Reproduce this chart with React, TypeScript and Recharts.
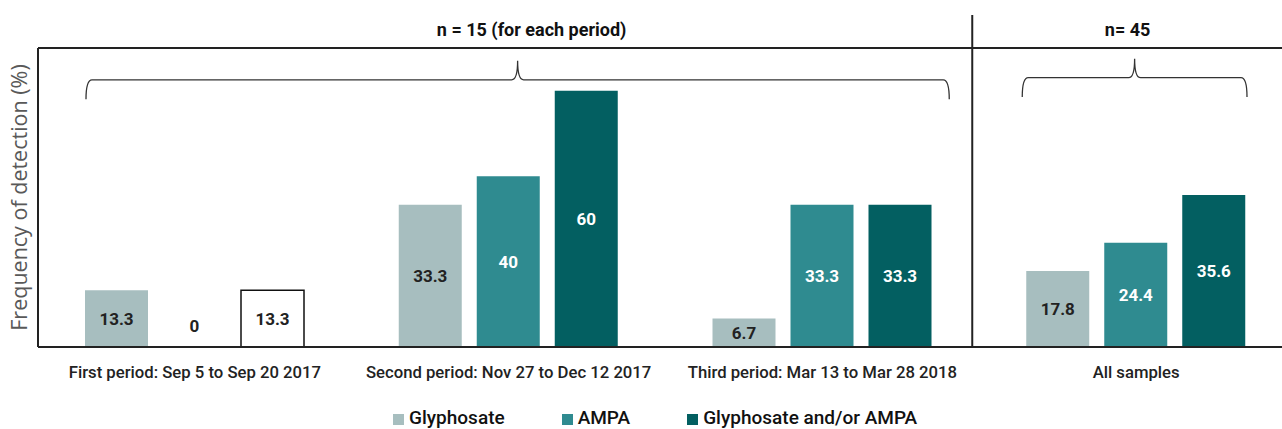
import { BarChart, Bar, XAxis, YAxis, Cell, LabelList, Label, ReferenceLine, ReferenceArea } from 'recharts';

const categories = [
  'First period: Sep 5 to Sep 20 2017',
  'Second period: Nov 27 to Dec 12 2017',
  'Third period: Mar 13 to Mar 28 2018',
  'All samples',
];
const glyphosate = [13.3, 33.3, 6.7, 17.8];
const ampa = [0, 40, 33.3, 24.4];
const either = [13.3, 60, 33.3, 35.6];

const seriesNames = ['Glyphosate', 'AMPA', 'Glyphosate and/or AMPA'];
const colors = ['#a7bebf', '#2f8b90', '#035f61'];

const data = categories.map((name, i) => ({
  name,
  glyphosate: glyphosate[i],
  ampa: ampa[i],
  either: either[i],
}));

const FONT = 'Roboto, "Noto Sans", sans-serif';

// the first period's combined bar is drawn as an empty box
const isOutlined = (key: string, index: number) => key === 'either' && index === 0;

function makeLabel(key: string, color: string) {
  return (props: any) => {
    const { x, y, width, height, value, index } = props;
    const cx = Number(x) + Number(width) / 2;
    const zero = Number(value) === 0;
    const cy = zero ? Number(y) + Number(height) - 21 : Number(y) + Number(height) / 2;
    const fill = zero || isOutlined(key, index) ? '#222' : color;
    return (
      <text x={cx} y={cy} dy="0.35em" textAnchor="middle" fill={fill}
        style={{ fontFamily: FONT, fontSize: 17, fontWeight: 700 }}>
        {value}
      </text>
    );
  };
}

function brace(leftInset: number, rightInset: number, title: string, titleDx: number) {
  return (p: any) => {
    const x0 = p.x + leftInset;
    const x1 = p.x + p.width - rightInset;
    const top = p.y;
    const bottom = p.y + p.height;
    const yh = top + 19;
    const xm = (x0 + x1) / 2;
    const d = `M${x0},${bottom} Q${x0},${yh} ${x0 + 6},${yh} L${xm - 6},${yh} Q${xm},${yh} ${xm},${top}`
      + ` Q${xm},${yh} ${xm + 6},${yh} L${x1 - 6},${yh} Q${x1},${yh} ${x1},${bottom}`;
    return (
      <g>
        <path d={d} fill="none" stroke="#333" strokeWidth={1.3} />
        <text x={xm + titleDx} y={36} textAnchor="middle" fill="#111"
          style={{ fontFamily: FONT, fontSize: 18, fontWeight: 700 }}>
          {title}
        </text>
      </g>
    );
  };
}

export default function App() {
  const keys = ['glyphosate', 'ampa', 'either'];
  return (
    <div style={{ position: 'absolute', left: 0, top: 0, width: 1282, height: 429, overflow: 'hidden', background: '#fff' }}>
      <BarChart width={1293} height={390} data={data} margin={{ top: 48, right: 0, bottom: 13, left: 8 }}
        barSize={63} barGap={15}>
        <XAxis dataKey="name" height={30} tickLine={false} axisLine={{ stroke: '#222', strokeWidth: 2 }}
          tickMargin={13} interval={0}
          tick={{ fontSize: 16.7, fill: '#222', fontWeight: 500, fontFamily: FONT }} />
        <YAxis domain={[0, 70]} width={30} tick={false} tickLine={false}
          axisLine={{ stroke: '#222', strokeWidth: 2 }}>
          <Label value="Frequency of detection (%)" angle={-90} position="center" dx={-4}
            style={{ fontFamily: '"Open Sans", sans-serif', fontSize: 21.5, fill: '#595959' }} />
        </YAxis>
        <ReferenceLine y={70} stroke="#222" strokeWidth={2} />
        <ReferenceLine x={categories[3]} position="start" stroke="#222" strokeWidth={2}
          shape={(p: any) => (
            <line x1={p.x1 - 7} x2={p.x2 - 7} y1={15} y2={Math.max(p.y1, p.y2)} stroke="#222" strokeWidth={2} />
          )} />
        <ReferenceArea x1={categories[0]} x2={categories[2]} y1={58} y2={67} ifOverflow="visible"
          shape={brace(48, 30, 'n = 15 (for each period)', 14)} />
        <ReferenceArea x1={categories[3]} x2={categories[3]} y1={58.5} y2={67.5} ifOverflow="visible"
          shape={brace(43, 46, 'n= 45', -7)} />
        {keys.map((key, si) => (
          <Bar key={key} dataKey={key} name={seriesNames[si]} fill={colors[si]} isAnimationActive={false}
            minPointSize={1}>
            {data.map((d, i) => {
              const empty = Number((d as any)[key]) === 0;
              const outlined = isOutlined(key, i);
              return (
                <Cell key={d.name}
                  fill={empty ? 'transparent' : outlined ? '#fff' : colors[si]}
                  stroke={outlined ? '#111' : 'none'}
                  strokeWidth={outlined ? 1.5 : 0} />
              );
            })}
            <LabelList dataKey={key} content={makeLabel(key, si === 0 ? '#222' : '#fff')} />
          </Bar>
        ))}
      </BarChart>
      <div style={{
        position: 'absolute', left: 393, top: 407, display: 'flex',
        gap: 57, fontFamily: FONT, fontSize: 19, fontWeight: 500,
        color: '#111', lineHeight: '22px',
      }}>
        {seriesNames.map((name, i) => (
          <div key={name} style={{ display: 'flex', alignItems: 'center' }}>
            <span style={{ display: 'inline-block', width: 11, height: 11, background: colors[i], marginRight: 5, marginTop: 3 }} />
            <span>{name}</span>
          </div>
        ))}
      </div>
    </div>
  );
}
